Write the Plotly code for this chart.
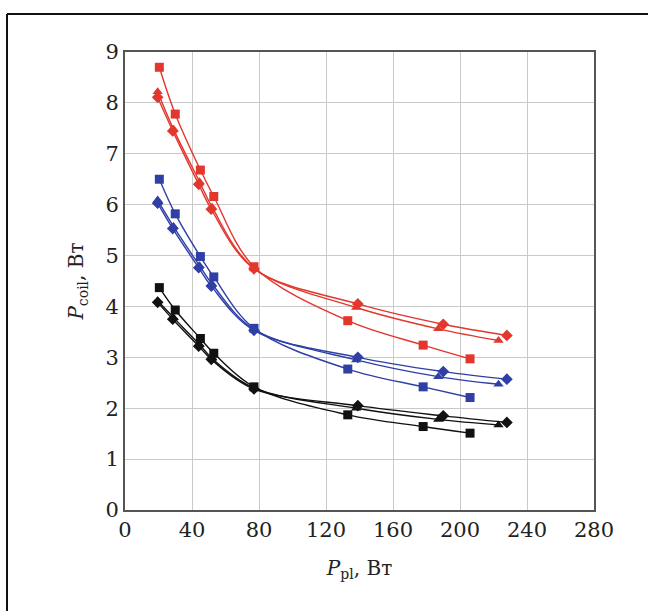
import plotly.graph_objects as go

# ---- data ----
x_square = [20.5, 30, 45, 53, 77, 133, 178, 206]
x_triangle = [19.5, 29, 44.5, 52, 77, 138, 187, 223]
x_diamond = [19.5, 28.5, 44, 51.5, 77, 139, 190, 228]

red_square = [8.70, 7.78, 6.68, 6.16, 4.78, 3.72, 3.24, 2.97]
red_triangle = [8.22, 7.48, 6.45, 5.95, 4.75, 3.98, 3.56, 3.33]
red_diamond = [8.11, 7.45, 6.40, 5.91, 4.74, 4.05, 3.65, 3.43]

blue_square = [6.50, 5.82, 4.98, 4.58, 3.57, 2.77, 2.42, 2.21]
blue_triangle = [6.09, 5.57, 4.80, 4.44, 3.55, 2.95, 2.62, 2.47]
blue_diamond = [6.03, 5.53, 4.76, 4.40, 3.53, 3.00, 2.72, 2.57]

black_square = [4.37, 3.93, 3.37, 3.08, 2.42, 1.87, 1.64, 1.51]
black_triangle = [4.11, 3.78, 3.25, 2.98, 2.40, 2.00, 1.78, 1.67]
black_diamond = [4.08, 3.75, 3.22, 2.96, 2.38, 2.05, 1.85, 1.72]

x_ticks = [0, 40, 80, 120, 160, 200, 240, 280]
y_ticks = [0, 1, 2, 3, 4, 5, 6, 7, 8, 9]

RED = "#e2372c"
BLUE = "#2f3fa6"
BLACK = "#111111"

series = [
    (x_square, red_square, RED, "square"),
    (x_triangle, red_triangle, RED, "triangle-up"),
    (x_diamond, red_diamond, RED, "diamond"),
    (x_square, blue_square, BLUE, "square"),
    (x_triangle, blue_triangle, BLUE, "triangle-up"),
    (x_diamond, blue_diamond, BLUE, "diamond"),
    (x_square, black_square, BLACK, "square"),
    (x_triangle, black_triangle, BLACK, "triangle-up"),
    (x_diamond, black_diamond, BLACK, "diamond"),
]

fig = go.Figure()
for xs, ys, col, sym in series:
    fig.add_trace(go.Scatter(
        x=xs, y=ys, mode="lines+markers",
        line=dict(color=col, width=1.4, shape="spline", smoothing=1.0),
        marker=dict(symbol=sym, size=9, color=col, line=dict(color=col, width=0)),
        showlegend=False,
    ))

FONT = "DejaVu Serif"
L, R, T, B = 125, 54, 52, 101
W, H = 648, 611
pw, ph = W - L - R, H - T - B

def px_x(p):
    return (p - L) / pw

def px_y(p):
    return (H - B - p) / ph

fig.update_layout(
    width=W, height=H,
    margin=dict(l=L, r=R, t=T, b=B),
    paper_bgcolor="white", plot_bgcolor="white",
    font=dict(family=FONT, size=21, color="#222"),
    xaxis=dict(
        range=[0, 280], tickvals=x_ticks, ticktext=[str(v) for v in x_ticks],
        showgrid=True, gridcolor="#c9c9c9", gridwidth=1.3,
        showline=True, linecolor="#555", linewidth=2, mirror=True,
        ticks="", zeroline=False,
        title=dict(text="<i>P</i><sub>pl</sub>, Вт", font=dict(family=FONT, size=20), standoff=20),
    ),
    yaxis=dict(
        range=[0, 9], tickvals=y_ticks, ticktext=[str(v) for v in y_ticks],
        showgrid=True, gridcolor="#c9c9c9", gridwidth=1.3,
        showline=True, linecolor="#555", linewidth=2, mirror=True,
        ticks="", zeroline=False,
        title=dict(text="<i>P</i><sub>coil</sub>, Вт", font=dict(family=FONT, size=20), standoff=16),
    ),
    shapes=[
        dict(type="line", xref="paper", yref="paper",
             x0=px_x(7), x1=px_x(648), y0=px_y(14), y1=px_y(14),
             line=dict(color="#111", width=2)),
        dict(type="line", xref="paper", yref="paper",
             x0=px_x(7), x1=px_x(7), y0=px_y(14), y1=px_y(611),
             line=dict(color="#111", width=2)),
    ],
)

fig.write_html("out.html")
